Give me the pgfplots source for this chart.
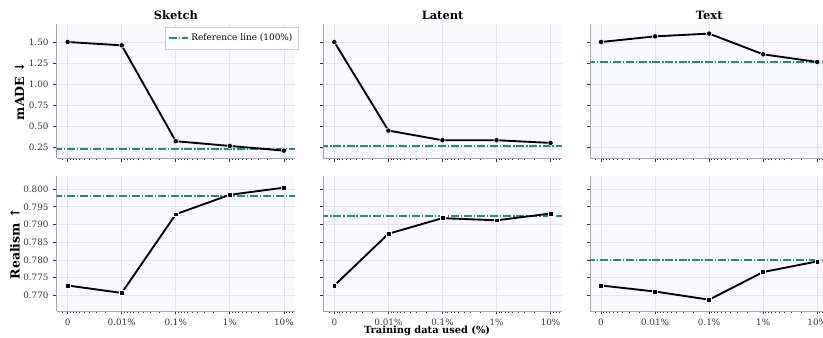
\documentclass[border=0pt]{standalone}
\usepackage{fontspec}
\setmainfont{DejaVu Serif}
\usepackage{pgfplots}
\pgfplotsset{compat=1.18}

\definecolor{refc}{RGB}{38,138,128}
\definecolor{bgc}{RGB}{248,249,253}
\definecolor{gridc}{RGB}{226,228,234}
\definecolor{spinec}{RGB}{165,165,170}
\definecolor{labc}{RGB}{50,50,50}

\pgfplotsset{
 every axis title shift=0pt,
 base/.style={
  scale only axis, width=178.9pt, height=101pt,
  xmin=-0.2037, xmax=4.21,
  xtick={0,1,2,3,4},
  minor xtick={-0.1,0.046,0.097,0.155,0.222,0.301,0.398,0.523,0.699,
               1.046,1.097,1.155,1.222,1.301,1.398,1.523,1.699,
               2.046,2.097,2.155,2.222,2.301,2.398,2.523,2.699,
               3.046,3.097,3.155,3.222,3.301,3.398,3.523,3.699,
               4.046,4.097,4.155},
  axis background/.style={fill=bgc},
  xmajorgrids, ymajorgrids,
  major grid style={draw=gridc, line width=0.5pt},
  axis x line*=bottom, axis y line*=left,
  axis line style={draw=spinec, line width=0.6pt, -},
  major tick style={draw=labc, line width=0.5pt},
  minor tick style={draw=labc, line width=0.4pt},
  major tick length=2.6pt, minor tick length=1.5pt,
  tick align=outside,
  ticklabel style={font=\fontsize{6.6}{8}\selectfont, text=labc},
  /pgf/number format/assume math mode=true,
  scaled y ticks=false,
  title style={font=\bfseries\fontsize{8.6}{10}\selectfont, at={(0.5,1)}, anchor=base, yshift=3.4pt},
  ylabel style={font=\bfseries\fontsize{9.4}{11}\selectfont, anchor=center},
 },
 toprow/.style={base, ymin=0.115, ymax=1.719, ytick={0.25,0.5,0.75,1.0,1.25,1.5},
   yticklabel style={/pgf/number format/.cd, fixed, fixed zerofill, precision=2},
   xticklabels={}},
 botrow/.style={base, ymin=0.7656, ymax=0.8036, ytick={0.770,0.775,0.780,0.785,0.790,0.795,0.800},
   yticklabel style={/pgf/number format/.cd, fixed, fixed zerofill, precision=3},
   xticklabels={0, 0.01\%, 0.1\%, 1\%, 10\%}},
 dataline/.style={black, line width=1.4pt, mark=*, mark size=2pt,
   mark options={fill=black, draw=white, line width=0.4pt, solid}},
 sqline/.style={black, line width=1.4pt, mark=square*, mark size=1.8pt,
   mark options={fill=black, draw=white, line width=0.4pt, solid}},
 refline/.style={draw=refc, line width=1.3pt, dash pattern=on 6pt off 1.4pt on 1pt off 1.4pt},
}

\begin{document}
\begin{tikzpicture}
% ---------- top row ----------
\begin{axis}[toprow, at={(42.5pt,-118.7pt)}, anchor=south west,
  title={Sketch}, ylabel={mADE ↓},
  ylabel style={at={(axis description cs:-0.155,0.5)}},
  legend style={at={(1.012,0.975)}, anchor=north east, draw=gray!40, fill=white,
    font=\fontsize{6.7}{8}\selectfont, inner xsep=2pt, inner ysep=3pt, row sep=0pt},
  legend cell align=left,
  legend image code/.code={\draw[#1] (0cm,0cm) -- (0.5cm,0cm);}]
\addplot[refline] coordinates {(-0.5,0.222) (4.5,0.222)};
\addlegendentry{Reference line (100\%)}
\addplot[dataline, forget plot] coordinates {(0,1.50) (1,1.46) (2,0.318) (3,0.262) (4,0.206)};
\end{axis}

\begin{axis}[toprow, at={(242.5pt,-118.7pt)}, anchor=south west,
  title={Latent}, yticklabels={}]
\addplot[refline] coordinates {(-0.5,0.264) (4.5,0.264)};
\addplot[dataline] coordinates {(0,1.50) (1,0.445) (2,0.330) (3,0.330) (4,0.298)};
\end{axis}

\begin{axis}[toprow, at={(442.5pt,-118.7pt)}, anchor=south west,
  title={Text}, yticklabels={}]
\addplot[refline] coordinates {(-0.5,1.265) (4.5,1.265)};
\addplot[dataline] coordinates {(0,1.50) (1,1.567) (2,1.60) (3,1.353) (4,1.262)};
\end{axis}

% ---------- bottom row ----------
\begin{axis}[botrow, at={(42.5pt,-233.25pt)}, anchor=south west,
  ylabel={Realism ↑},
  ylabel style={at={(axis description cs:-0.1747,0.5)}}]
\addplot[refline] coordinates {(-0.5,0.7980) (4.5,0.7980)};
\addplot[sqline] coordinates {(0,0.7728) (1,0.7707) (2,0.7929) (3,0.7984) (4,0.8004)};
\end{axis}

\begin{axis}[botrow, at={(242.5pt,-233.25pt)}, anchor=south west,
  yticklabels={},
  xlabel={Training data used (\%)},
  xlabel style={font=\bfseries\fontsize{7.4}{9}\selectfont, at={(axis description cs:0.435,0)}, anchor=base, yshift=-16.8pt}]
\addplot[refline] coordinates {(-0.5,0.7925) (4.5,0.7925)};
\addplot[sqline] coordinates {(0,0.7728) (1,0.7874) (2,0.7918) (3,0.7912) (4,0.7931)};
\end{axis}

\begin{axis}[botrow, at={(442.5pt,-233.25pt)}, anchor=south west,
  yticklabels={}]
\addplot[refline] coordinates {(-0.5,0.7799) (4.5,0.7799)};
\addplot[sqline] coordinates {(0,0.7728) (1,0.7711) (2,0.7688) (3,0.7766) (4,0.7796)};
\end{axis}

\pgfresetboundingbox
\path[use as bounding box] (0pt,0pt) rectangle (617.25pt,-252.75pt);
\end{tikzpicture}
\end{document}
